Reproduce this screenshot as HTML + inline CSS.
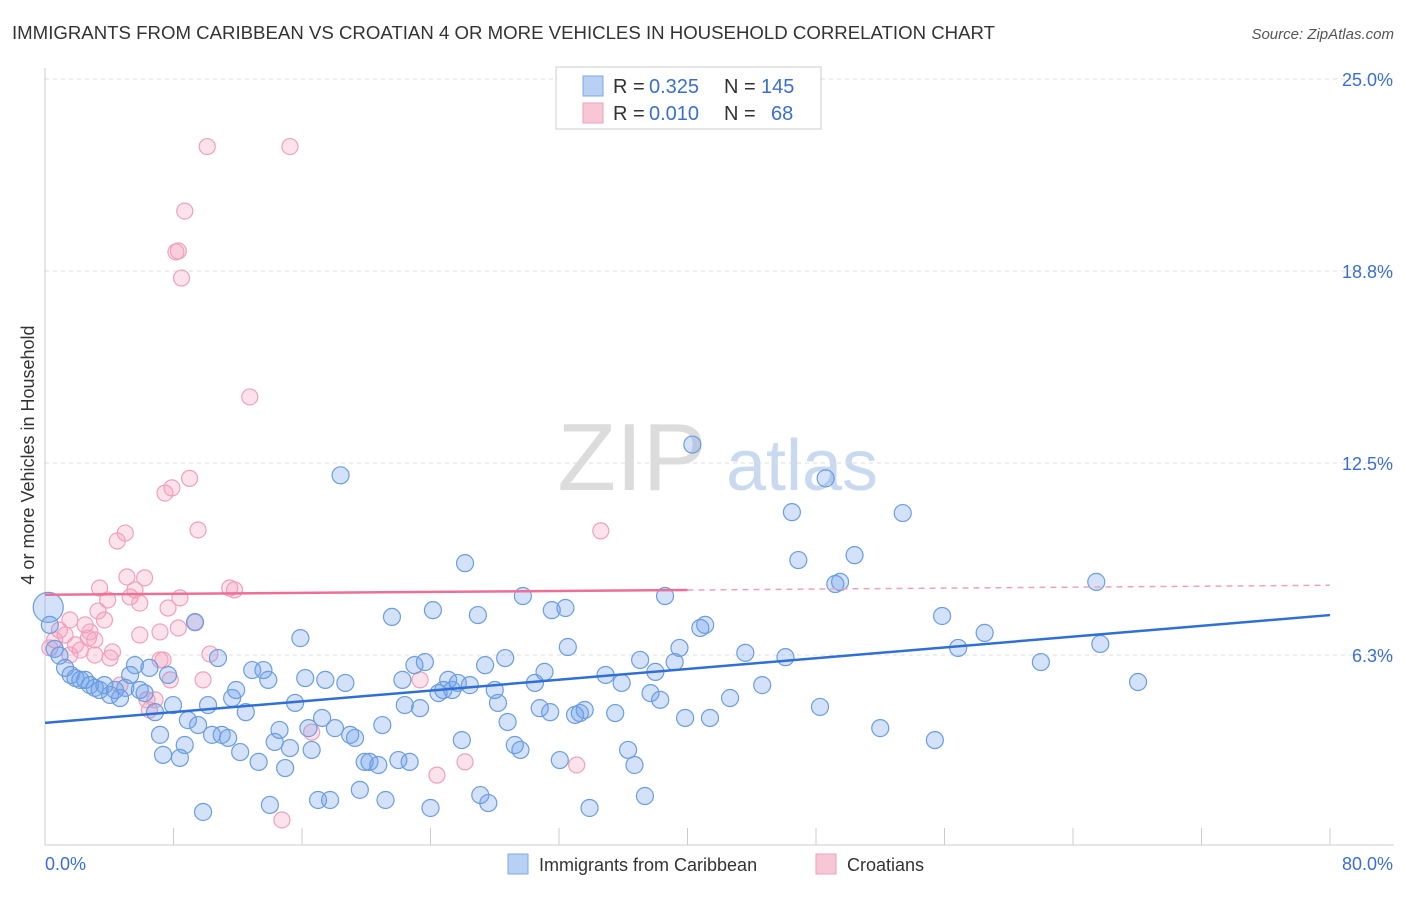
<!DOCTYPE html>
<html><head><meta charset="utf-8"><style>
body{margin:0;background:#fff;font-family:"Liberation Sans",sans-serif;}
svg text{font-family:"Liberation Sans",sans-serif;}
</style></head><body>
<svg width="1406" height="892" viewBox="0 0 1406 892" xmlns="http://www.w3.org/2000/svg">
<text x="12" y="39" font-size="18" fill="#333" textLength="983" lengthAdjust="spacingAndGlyphs">IMMIGRANTS FROM CARIBBEAN VS CROATIAN 4 OR MORE VEHICLES IN HOUSEHOLD CORRELATION CHART</text>
<text x="1394" y="39" font-size="15" fill="#555" font-style="italic" text-anchor="end">Source: ZipAtlas.com</text>
<g>
<text x="632" y="490" font-size="96" fill="#dcdcdc" font-family="Liberation Serif" text-anchor="middle">ZIP</text>
<text x="802" y="490" font-size="72" fill="#c9daf0" text-anchor="middle">atlas</text>
</g>
<g id="grid"></g>
<g id="axes"></g>
<g id="pts"></g>
<g id="trend"></g>
<g>
<rect x="556" y="67" width="265" height="62" fill="#fff" stroke="#ccc"/>
<rect x="583" y="76" width="20" height="20" fill="#b7d0f3" stroke="#7ea8e6"/>
<rect x="583" y="103" width="20" height="20" fill="#f8c7d6" stroke="#ee9fba"/>
<text x="613" y="93" font-size="20" fill="#333">R = <tspan x="649" fill="#3a6fd1">0.325</tspan></text>
<text x="724" y="93" font-size="20" fill="#333">N = <tspan x="761" fill="#3a6fd1">145</tspan></text>
<text x="613" y="120" font-size="20" fill="#333">R = <tspan x="649" fill="#3a6fd1">0.010</tspan></text>
<text x="724" y="120" font-size="20" fill="#333">N = <tspan x="771" fill="#3a6fd1">68</tspan></text>
</g>
<g>
<rect x="508" y="854" width="20" height="20" fill="#b7d0f3" stroke="#7ea8e6"/>
<text x="539" y="871" font-size="18" fill="#333">Immigrants from Caribbean</text>
<rect x="816" y="854" width="20" height="20" fill="#f8c7d6" stroke="#ee9fba"/>
<text x="847" y="871" font-size="18" fill="#333">Croatians</text>
</g>
<text x="34" y="455" font-size="18" fill="#333" transform="rotate(-90 34 455)" text-anchor="middle">4 or more Vehicles in Household</text>
</svg>
<script>
const yTicks=[6.25,12.5,18.75,25];
const yTickLabels=["6.3%","12.5%","18.8%","25.0%"];
const xLabels=["0.0%","80.0%"];
const blueX=[0.2,0.6,0.9,1.25,1.6,1.9,2.2,2.5,2.8,3.1,3.4,3.7,4.05,4.36,4.67,5.0,5.3,5.6,5.9,6.2,6.5,6.85,7.16,7.35,7.66,7.97,8.4,8.7,8.9,9.34,9.53,9.84,10.15,10.4,10.77,11.0,11.4,11.65,11.9,12.15,12.5,12.9,13.3,13.6,13.9,14.0,14.3,14.6,14.95,15.25,15.57,15.9,16.2,16.4,16.6,17.0,17.25,17.45,17.75,18.05,18.4,18.7,19.0,19.3,19.6,19.9,20.2,20.75,21.0,21.2,21.6,22.0,22.25,22.4,22.7,23.0,23.35,23.65,24.0,24.15,24.5,24.8,25.1,25.35,25.7,25.95,26.15,26.45,26.95,27.1,27.4,27.6,28.0,28.2,28.65,28.8,29.25,29.6,29.75,30.5,30.8,31.1,31.45,31.55,32.05,32.4,32.55,33.0,33.3,33.6,33.9,34.9,35.5,35.9,36.3,36.7,37.05,37.35,37.7,38.0,38.3,38.6,39.2,39.5,39.85,40.3,40.8,41.1,41.4,42.65,43.6,44.65,46.1,46.5,46.9,48.25,48.6,49.2,49.5,50.4,52.0,53.4,55.4,55.85,56.85,58.5,62.0,65.45,65.7,68.05,0.3];
const blueY=[7.8,6.45,6.23,5.83,5.6,5.5,5.44,5.44,5.27,5.18,5.11,5.27,4.95,5.11,4.85,5.18,5.6,5.92,5.11,5.01,5.83,4.39,3.65,3.0,5.6,4.62,2.9,3.32,4.13,7.32,3.97,1.14,4.62,3.65,6.15,3.65,3.55,4.85,5.11,3.09,4.39,5.76,2.77,5.76,5.44,1.37,3.42,3.81,2.57,3.22,4.69,6.8,5.5,3.87,3.16,1.53,4.2,5.44,1.53,3.87,12.1,5.34,3.65,3.55,1.86,2.77,2.77,2.67,3.97,1.53,7.49,2.83,5.44,4.62,2.77,5.92,4.52,6.02,1.27,7.71,5.01,5.11,5.44,5.11,5.34,3.48,9.24,5.27,7.55,1.69,5.92,1.43,5.11,4.69,6.15,4.07,3.32,3.16,8.17,5.34,4.52,5.7,4.39,7.71,2.83,7.78,6.51,4.3,4.36,4.46,1.27,5.6,4.36,5.34,3.16,2.67,6.09,1.66,5.01,5.7,4.79,8.17,6.02,6.48,4.2,13.1,7.13,7.23,4.2,4.85,6.32,5.27,6.18,10.9,9.34,4.56,12.0,8.56,8.63,9.5,3.87,10.87,3.48,7.52,6.48,6.97,6.02,8.63,6.61,5.37,7.23];
const pinkX=[0.3,0.6,0.9,1.25,1.55,1.9,2.2,2.5,2.7,2.8,3.1,3.3,3.4,3.7,4.05,4.2,4.5,4.67,5.0,5.1,5.3,5.6,5.9,6.2,6.35,6.5,6.85,7.16,7.35,7.47,7.66,7.8,7.9,8.3,8.4,8.7,9.0,9.34,9.53,9.84,10.1,10.27,11.5,11.8,12.75,14.75,15.25,16.6,23.35,24.4,26.15,33.1,34.6,8.15,8.5,3.9,5.9,7.16,1.55,3.1,8.3];
const pinkY=[6.48,6.74,7.06,6.9,7.39,6.58,6.41,7.23,6.8,7.0,6.25,7.68,8.43,7.39,6.15,6.35,9.96,5.27,10.22,8.79,8.14,8.37,7.94,8.76,4.79,4.46,4.79,7.0,6.09,11.52,7.78,5.44,11.69,7.13,8.11,20.7,12.0,7.32,10.32,5.44,22.8,6.28,8.43,8.37,14.65,0.88,22.8,3.74,5.44,2.34,2.77,2.67,10.29,19.37,18.52,8.04,6.9,6.09,6.25,6.74,19.4];
const blueTrend=[4.04,7.55];
const pinkTrend=[8.21,8.52];
const pinkSolidEnd=40;
const NS="http://www.w3.org/2000/svg";
const X=v=>45+v*(1285/80);
const Y=v=>847-v*30.72;
function mk(tag,attrs,parent){const e=document.createElementNS(NS,tag);for(const k in attrs)e.setAttribute(k,attrs[k]);parent.appendChild(e);return e;}
const grid=document.getElementById('grid'),axes=document.getElementById('axes');
yTicks.forEach((t,i)=>{
 const l=mk('line',{x1:45,x2:1394,y1:Y(t),y2:Y(t),stroke:'#ddd','stroke-dasharray':'4,4'},grid);
 
 
 const tx=mk('text',{x:1393,y:Y(t)+7,'font-size':18,fill:'#3a6fd1','text-anchor':'end'},axes);
 tx.textContent=yTickLabels[i];
 
 
});
mk('line',{x1:45,x2:45,y1:68,y2:845,stroke:'#ccc'},axes);
mk('line',{x1:45,x2:1394,y1:845,y2:845,stroke:'#ccc'},axes);
for(let i=1;i<=10;i++){const t=mk('line',{x1:X(i*8),x2:X(i*8),y1:828,y2:845,stroke:'#ccc'},axes);
 
 }
const xl0=mk('text',{x:45,y:870,'font-size':18,fill:'#3a6fd1'},axes);xl0.textContent=xLabels[0];


const xl1=mk('text',{x:1393,y:870,'font-size':18,fill:'#3a6fd1','text-anchor':'end'},axes);xl1.textContent=xLabels[1];


const pts=document.getElementById('pts');
pinkX.forEach((v,i)=>{const c=mk('circle',{cx:X(v),cy:Y(pinkY[i]),r:8,fill:'rgba(244,160,188,0.3)',stroke:'#f0a0bc','stroke-width':1.2},pts);
 
 });
blueX.forEach((v,i)=>{const c=mk('circle',{cx:X(v),cy:Y(blueY[i]),r:i===0?15:8.5,fill:'rgba(110,160,235,0.3)',stroke:'#6b9de0','stroke-width':1.2},pts);
 
 });
const tr=document.getElementById('trend');
const bl=mk('line',{x1:X(0),y1:Y(blueTrend[0]),x2:X(80),y2:Y(blueTrend[1]),stroke:'#2f6fd6','stroke-width':2.5},tr);


const pm=pinkTrend[0]+(pinkTrend[1]-pinkTrend[0])*pinkSolidEnd/80;
const pl=mk('line',{x1:X(0),y1:Y(pinkTrend[0]),x2:X(pinkSolidEnd),y2:Y(pm),stroke:'#ee6f96','stroke-width':2.5},tr);


const pd=mk('line',{x1:X(pinkSolidEnd),y1:Y(pm),x2:X(80),y2:Y(pinkTrend[1]),stroke:'#f0a0bc','stroke-width':1.5,'stroke-dasharray':'6,5'},tr);


</script>
</body></html>
